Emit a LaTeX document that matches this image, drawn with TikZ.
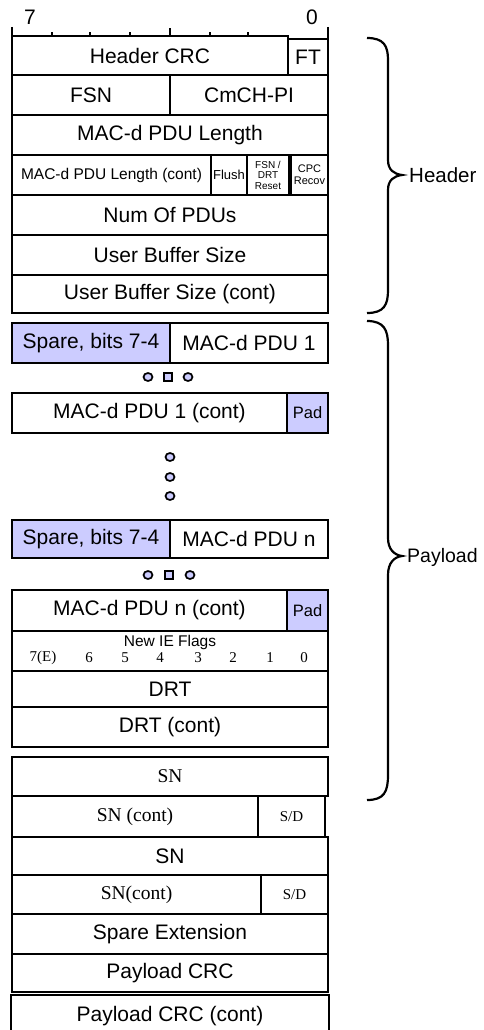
\documentclass[tikz,border=0pt]{standalone}
\usepackage{fontspec}
\setmainfont{Liberation Sans}
\newfontfamily\tms{Liberation Serif}
\usetikzlibrary{shapes.geometric}
\definecolor{lav}{RGB}{204,204,255}
\newcommand\fcell[7]{\node[cell,#6,minimum width={(#4-#2)*1pt},minimum height={(#5-#3)*1pt}] (#1) at ({(#2+#4)/2},{(#3+#5)/2}) {#7};}
\tikzset{
  cell/.style={draw,line width=2.2pt,inner sep=0pt,align=center,font=\fontsize{21}{23}\selectfont},
  shade/.style={fill=lav},
  plain/.style={},
  small/.style={font=\fontsize{15.5}{17}\selectfont},
  tiny/.style={font=\fontsize{10}{10.5}\selectfont},
  serif/.style={font=\tms\fontsize{19.5}{21}\selectfont},
  serifsm/.style={font=\tms\fontsize{15}{16}\selectfont},
  padf/.style={fill=lav,font=\fontsize{16.5}{18}\selectfont},
  thick2/.style={line width=2.2pt},
  dot/.style={draw,line width=1.7pt,fill=lav,ellipse,inner sep=0pt,minimum width=9pt,minimum height=8pt},
  sqdot/.style={draw,line width=1.7pt,fill=lav,rectangle,inner sep=0pt,minimum width=7.5pt,minimum height=8.5pt},
  lbl/.style={font=\fontsize{20.5}{23}\selectfont,anchor=west,inner sep=0pt}
}
\begin{document}
\begin{tikzpicture}[x=1pt,y=-1pt]
\useasboundingbox (0,0) rectangle (484,1030);
% ruler
\node[font=\fontsize{21}{23}\selectfont] (b7) at (30,17) {7};
\node[font=\fontsize{21}{23}\selectfont] (b0) at (312,17) {0};
\draw[thick2] (12,27) -- (12,36) -- (288,36);
\draw[thick2] (328,27) -- (328,39);
\foreach \t in {52,90,130,210,248} \draw[line width=1.7pt] (\t,32.5) -- (\t,37);
\draw[line width=1.7pt] (170,28.5) -- (170,37);
% header
\fcell{hcrc}{12}{36}{288}{75}{plain}{Header CRC}
\fcell{ft}{288}{39}{328}{75}{plain}{FT}
\fcell{fsn}{12}{75}{170}{115}{plain}{FSN}
\fcell{cmch}{170}{75}{328}{115}{plain}{CmCH-PI}
\fcell{len}{12}{115}{328}{155}{plain}{MAC-d PDU Length}
\fcell{lenc}{12}{155}{211}{195}{small}{MAC-d PDU Length (cont)}
\fcell{flush}{211}{155}{247}{195}{font=\fontsize{13}{14}\selectfont}{Flush}
\fcell{fsnr}{247}{155}{289}{195}{tiny}{FSN /\\DRT\\Reset}
\fcell{cpc}{291}{155}{328}{195}{font=\fontsize{11}{12}\selectfont}{CPC\\Recov}
\fcell{num}{12}{195}{328}{235}{plain}{Num Of PDUs}
\fcell{ubs}{12}{235}{328}{275}{plain}{User Buffer Size}
\fcell{ubsc}{12}{275}{328}{313}{plain}{User Buffer Size (cont)}
% payload
\fcell{sp1}{12}{323}{170}{363}{shade}{Spare, bits 7-4}
\fcell{pdu1}{170}{323}{328}{363}{plain}{MAC-d PDU 1}
\node[dot] (d1a) at (148,377) {};
\node[sqdot] (d1b) at (168,377) {};
\node[dot] (d1c) at (188,377) {};
\fcell{pdu1c}{12}{393}{287}{433}{plain}{MAC-d PDU 1 (cont)}
\fcell{pad1}{287}{393}{328}{433}{padf}{Pad}
\node[dot] (v1) at (170,457) {};
\node[dot] (v2) at (170,477) {};
\node[dot] (v3) at (170,496) {};
\fcell{spn}{12}{520}{170}{558}{shade}{Spare, bits 7-4}
\fcell{pdun}{170}{520}{328}{558}{plain}{MAC-d PDU n}
\node[dot] (d2a) at (148,575) {};
\node[sqdot] (d2b) at (169,575) {};
\node[dot] (d2c) at (190,575) {};
\fcell{pdunc}{12}{590}{287}{631}{plain}{MAC-d PDU n (cont)}
\fcell{padn}{287}{590}{328}{631}{padf}{Pad}
\fcell{flags}{12}{631}{328}{671}{plain}{}
\node[font=\fontsize{15.5}{17}\selectfont] (flt) at (170,642) {New IE Flags};
\foreach \xx/\tt/\nm in {43/7(E)/f7,89/6/f6,125/5/f5,160/4/f4,198/3/f3,233/2/f2,270/1/f1,304/0/f0}
  \node[serifsm] (\nm) at (\xx,658) {\tt};
\fcell{drt}{12}{671}{328}{707}{plain}{DRT}
\fcell{drtc}{12}{707}{328}{747}{plain}{DRT (cont)}
\fcell{sn1}{12}{757}{328}{796}{serif}{SN}
\fcell{sn1c}{12}{796}{258}{837}{serif}{SN (cont)}
\fcell{sd1}{258}{796}{325}{837}{serifsm}{S/D}
\fcell{sn2}{12}{837}{328}{875}{plain}{SN}
\fcell{sn2c}{12}{875}{261}{914}{serif}{SN(cont)}
\fcell{sd2}{261}{875}{328}{914}{serifsm}{S/D}
\fcell{spext}{12}{914}{328}{954}{plain}{Spare Extension}
\fcell{pcrc}{12}{954}{328}{992}{plain}{Payload CRC}
\node[cell,draw=none,minimum width=316pt,minimum height=40pt] (pcrcc) at (170,1016) {Payload CRC (cont)};
\draw[thick2] (pcrcc.south west) -- (pcrcc.north west) -- (pcrcc.north east) -- (pcrcc.south east);
% braces
\draw[thick2] (367,38) .. controls (384,38) and (388,46) .. (388,60) -- (388,160)
  .. controls (388,170) and (394,174) .. (402,175) .. controls (394,176) and (388,180) .. (388,190)
  -- (388,290) .. controls (388,305) and (384,313) .. (367,313);
\node[lbl] (hdr) at (409,175) {Header};
\draw[thick2] (367,321) .. controls (384,321) and (388,330) .. (388,345) -- (388,538)
  .. controls (388,549) and (394,555) .. (402,556) .. controls (394,557) and (388,563) .. (388,575)
  -- (388,775) .. controls (388,792) and (384,800) .. (367,800);
\node[lbl,font=\fontsize{19.5}{22}\selectfont] (pl) at (407,557) {Payload};
\end{tikzpicture}
\end{document}
